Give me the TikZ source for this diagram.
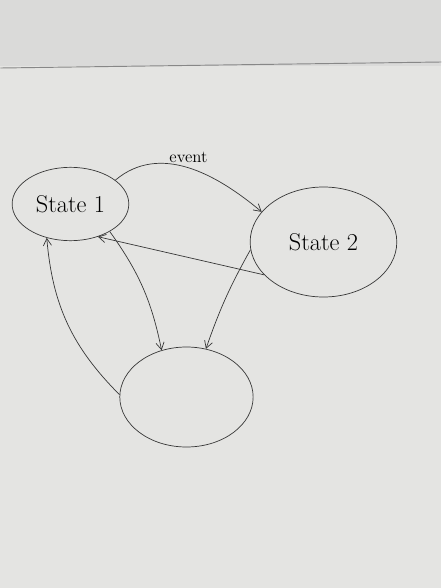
\documentclass[tikz,border=0pt]{standalone}
\usetikzlibrary{arrows.meta,shapes.geometric,positioning}
\definecolor{board}{RGB}{228,228,226}
\definecolor{wall}{RGB}{218,218,217}
\definecolor{marker}{RGB}{55,55,55}

\begin{document}
\begin{tikzpicture}[x=0.03cm,y=-0.03cm,>={Straight Barb[angle=60:7pt]},
	statenode/.style={ellipse,draw=marker,semithick,inner sep=0pt,font=\huge},
	every edge/.style={draw=marker,semithick}]

	% board
	\fill [board] (0,0) rectangle (441,588);
	\fill [wall] (0,0) rectangle (441,66);
	\draw [marker!60,thick] (0,68) -- (441,62);

	\node [statenode, minimum width=3.5cm, minimum height=2.2cm]	at (70,204)		(s_1)	{State 1};
	\node [statenode, minimum width=4.4cm, minimum height=3.3cm]	at (323,242)	(s_2)	{State 2};
	\node [statenode, minimum width=4cm, minimum height=3cm]		at (186,397)	(s_3)	{};

	\path [->]	(s_1.28)	edge [out=40,in=140]	node [above=1pt,font=\Large]	{event}	(s_2.154)
				(s_2.209)	edge							(s_1.-50)
				(s_1.-35)	edge [bend left=12]		(s_3.118)
				(s_2.186)	edge [bend right=5]		(s_3.68)
				(s_3.178)	edge [bend left=20]		(s_1.235);

\end{tikzpicture}
\end{document}
